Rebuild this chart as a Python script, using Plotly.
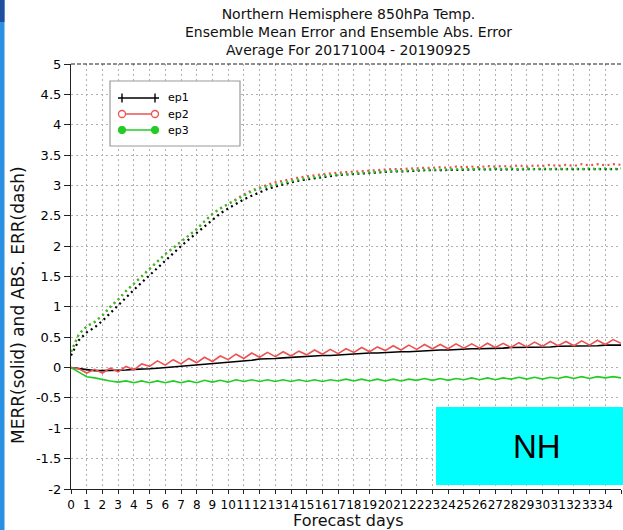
import plotly.graph_objects as go

# ---------------- data ----------------
days = [0, 0.5, 1, 1.5, 2, 2.5, 3, 3.5, 4, 4.5, 5, 5.5, 6, 6.5, 7, 7.5, 8, 8.5, 9, 9.5,
        10, 10.5, 11, 11.5, 12, 12.5, 13, 13.5, 14, 14.5, 15, 15.5, 16, 16.5, 17, 17.5,
        18, 18.5, 19, 19.5, 20, 20.5, 21, 21.5, 22, 22.5, 23, 23.5, 24, 24.5, 25, 25.5,
        26, 26.5, 27, 27.5, 28, 28.5, 29, 29.5, 30, 30.5, 31, 31.5, 32, 32.5, 33, 33.5,
        34, 34.5, 35]

# ensemble mean error (solid)
merr_ep1 = [0.00, -0.02, -0.04, -0.05, -0.05, -0.05, -0.04, -0.04, -0.03, -0.03,
            -0.02, -0.01, 0.00, 0.01, 0.02, 0.03, 0.04, 0.05, 0.06, 0.07,
            0.09, 0.10, 0.11, 0.12, 0.14, 0.14, 0.15, 0.16, 0.17, 0.17,
            0.18, 0.19, 0.20, 0.20, 0.21, 0.22, 0.23, 0.23, 0.24, 0.24,
            0.25, 0.25, 0.26, 0.26, 0.27, 0.28, 0.28, 0.29, 0.29, 0.30,
            0.30, 0.31, 0.31, 0.31, 0.32, 0.32, 0.33, 0.33, 0.33, 0.34,
            0.34, 0.34, 0.35, 0.35, 0.35, 0.36, 0.36, 0.36, 0.37, 0.37, 0.37]
merr_ep2 = [0.00, -0.02, -0.09, -0.03, -0.09, -0.01, -0.07, 0.02, -0.04, 0.06,
            0.02, 0.11, 0.04, 0.13, 0.06, 0.15, 0.08, 0.17, 0.10, 0.19,
            0.13, 0.22, 0.15, 0.24, 0.17, 0.25, 0.18, 0.26, 0.19, 0.27,
            0.21, 0.29, 0.22, 0.30, 0.23, 0.31, 0.25, 0.33, 0.26, 0.34,
            0.28, 0.36, 0.29, 0.37, 0.30, 0.38, 0.31, 0.38, 0.31, 0.39,
            0.32, 0.39, 0.32, 0.40, 0.33, 0.40, 0.33, 0.41, 0.34, 0.42,
            0.35, 0.43, 0.36, 0.43, 0.36, 0.44, 0.37, 0.45, 0.38, 0.46, 0.40]
merr_ep3 = [0.00, -0.08, -0.15, -0.17, -0.20, -0.22, -0.24, -0.22, -0.25, -0.22,
            -0.25, -0.22, -0.25, -0.22, -0.25, -0.22, -0.25, -0.21, -0.24, -0.21,
            -0.24, -0.20, -0.23, -0.20, -0.23, -0.20, -0.23, -0.20, -0.23, -0.20,
            -0.23, -0.20, -0.23, -0.20, -0.22, -0.19, -0.22, -0.19, -0.22, -0.19,
            -0.22, -0.19, -0.22, -0.19, -0.21, -0.18, -0.21, -0.18, -0.21, -0.18,
            -0.20, -0.17, -0.20, -0.17, -0.20, -0.17, -0.19, -0.16, -0.19, -0.16,
            -0.19, -0.16, -0.18, -0.15, -0.18, -0.15, -0.18, -0.15, -0.17, -0.15, -0.17]

# ensemble absolute error (dotted)
abserr_ep1 = [0.20, 0.45, 0.58, 0.66, 0.77, 0.90, 1.02, 1.15, 1.28, 1.40,
              1.52, 1.65, 1.77, 1.89, 2.00, 2.11, 2.22, 2.33, 2.44, 2.54,
              2.62, 2.70, 2.77, 2.83, 2.89, 2.94, 2.98, 3.02, 3.05, 3.08,
              3.10, 3.12, 3.14, 3.15, 3.17, 3.18, 3.19, 3.20, 3.21, 3.21,
              3.22, 3.23, 3.23, 3.24, 3.24, 3.25, 3.25, 3.25, 3.26, 3.25,
              3.26, 3.26, 3.27, 3.26, 3.27, 3.26, 3.27, 3.26, 3.27, 3.27,
              3.27, 3.26, 3.27, 3.27, 3.27, 3.26, 3.27, 3.27, 3.27, 3.26, 3.27]
abserr_ep2 = [0.26, 0.55, 0.68, 0.75, 0.86, 1.00, 1.12, 1.26, 1.38, 1.50,
              1.62, 1.75, 1.87, 1.97, 2.07, 2.17, 2.28, 2.41, 2.53, 2.62,
              2.70, 2.78, 2.85, 2.92, 2.97, 3.01, 3.05, 3.08, 3.11, 3.13,
              3.15, 3.17, 3.18, 3.20, 3.21, 3.22, 3.23, 3.24, 3.25, 3.25,
              3.26, 3.27, 3.27, 3.28, 3.28, 3.29, 3.29, 3.30, 3.29, 3.31,
              3.30, 3.31, 3.30, 3.32, 3.31, 3.32, 3.31, 3.33, 3.31, 3.33,
              3.32, 3.34, 3.32, 3.34, 3.32, 3.35, 3.33, 3.35, 3.33, 3.35, 3.34]
abserr_ep3 = [0.26, 0.55, 0.68, 0.75, 0.86, 1.00, 1.12, 1.26, 1.38, 1.50,
              1.62, 1.75, 1.87, 1.97, 2.07, 2.17, 2.28, 2.41, 2.53, 2.62,
              2.69, 2.77, 2.84, 2.90, 2.95, 2.98, 3.02, 3.05, 3.08, 3.10,
              3.12, 3.14, 3.15, 3.17, 3.18, 3.19, 3.20, 3.21, 3.22, 3.22,
              3.23, 3.24, 3.24, 3.25, 3.25, 3.26, 3.26, 3.26, 3.27, 3.27,
              3.27, 3.27, 3.28, 3.27, 3.28, 3.27, 3.28, 3.27, 3.28, 3.27,
              3.28, 3.27, 3.28, 3.27, 3.28, 3.27, 3.28, 3.27, 3.28, 3.27, 3.28]

x_tickvals = list(range(0, 36))
x_ticktext = [str(v) for v in x_tickvals]
y_tickvals = [-2, -1.5, -1, -0.5, 0, 0.5, 1, 1.5, 2, 2.5, 3, 3.5, 4, 4.5, 5]
y_ticktext = ["-2", "-1.5", "-1", "-0.5", "0", "0.5", "1", "1.5", "2", "2.5",
              "3", "3.5", "4", "4.5", "5"]

series_names = ["ep1", "ep2", "ep3"]
series_colors = ["#000000", "#ec5252", "#22cc22"]

title_lines = ["Northern Hemisphere 850hPa Temp.",
               "Ensemble Mean Error and Ensemble Abs. Error",
               "Average For 20171004 - 20190925"]

# ---------------- layout geometry ----------------
W, H = 623, 530
L, R, T, B = 71, 2, 64, 41
PW, PH = W - L - R, H - T - B


def px(x):
    return (x - L) / PW


def py(y):
    return (H - B - y) / PH


FONT = "DejaVu Sans"

fig = go.Figure()

merr = [merr_ep1, merr_ep2, merr_ep3]
aerr = [abserr_ep1, abserr_ep2, abserr_ep3]

for name, col, vals in zip(series_names, series_colors, aerr):
    fig.add_trace(go.Scatter(x=days, y=vals, mode="lines", name=name + " abs",
                             line=dict(color=col, width=2.2, dash="2px,3.5px"),
                             showlegend=False, hoverinfo="skip"))
for name, col, vals in zip(series_names, series_colors, merr):
    fig.add_trace(go.Scatter(x=days, y=vals, mode="lines", name=name,
                             line=dict(color=col, width=1.6),
                             showlegend=False))

shapes = []
# left blue strip of the page
shapes.append(dict(type="rect", xref="paper", yref="paper",
                   x0=px(0), x1=px(4.5), y0=py(H), y1=py(0),
                   fillcolor="#2a90e2", line=dict(width=0), layer="above"))
shapes.append(dict(type="rect", xref="paper", yref="paper",
                   x0=px(0), x1=px(4.5), y0=py(22), y1=py(0),
                   fillcolor="#1d4f9e", line=dict(width=0), layer="above"))
# top dashed frame line
shapes.append(dict(type="line", xref="paper", yref="paper",
                   x0=0, x1=1, y0=1, y1=1,
                   line=dict(color="#222222", width=1.2, dash="4px,2px")))
# NH box
shapes.append(dict(type="rect", xref="paper", yref="paper",
                   x0=px(436), x1=px(W + 5), y0=py(485), y1=py(407),
                   fillcolor="#00ffff", line=dict(width=0), layer="above"))
# legend box
shapes.append(dict(type="rect", xref="paper", yref="paper",
                   x0=px(110), x1=px(240), y0=py(146), y1=py(81),
                   fillcolor="white", line=dict(color="#9a9a9a", width=1.2),
                   layer="above"))
leg_y = [98, 114, 130]
lx0, lx1 = 118, 159
mx = (122, 155)
for i, (name, col) in enumerate(zip(series_names, series_colors)):
    yy = leg_y[i]
    shapes.append(dict(type="line", xref="paper", yref="paper",
                       x0=px(lx0 if i == 0 else mx[0]), x1=px(lx1 if i == 0 else mx[1]),
                       y0=py(yy), y1=py(yy),
                       line=dict(color=col, width=1.4), layer="above"))
    for xm in mx:
        if i == 0:
            shapes.append(dict(type="line", xref="paper", yref="paper",
                               x0=px(xm), x1=px(xm), y0=py(yy - 4.5), y1=py(yy + 4.5),
                               line=dict(color=col, width=1.4), layer="above"))
        elif i == 1:
            shapes.append(dict(type="circle", xref="paper", yref="paper",
                               x0=px(xm - 3.5), x1=px(xm + 3.5),
                               y0=py(yy + 3.5), y1=py(yy - 3.5),
                               fillcolor="white", line=dict(color=col, width=1.3),
                               layer="above"))
        else:
            shapes.append(dict(type="circle", xref="paper", yref="paper",
                               x0=px(xm - 3.7), x1=px(xm + 3.7),
                               y0=py(yy + 3.7), y1=py(yy - 3.7),
                               fillcolor=col, line=dict(color=col, width=1),
                               layer="above"))

annotations = []
for i, name in enumerate(series_names):
    annotations.append(dict(xref="paper", yref="paper", x=px(166), y=py(leg_y[i]),
                            text=name, showarrow=False, xanchor="left", yanchor="middle",
                            font=dict(family=FONT, size=11, color="black")))
annotations.append(dict(xref="paper", yref="paper", x=px(348), y=py(32),
                        text="<br>".join(title_lines), showarrow=False,
                        xanchor="center", yanchor="middle", align="center",
                        font=dict(family=FONT, size=14, color="#111111")))
annotations.append(dict(xref="paper", yref="paper", x=px(348), y=py(520),
                        text="Forecast days", showarrow=False, xanchor="center",
                        yanchor="middle", font=dict(family=FONT, size=16, color="#111111")))
annotations.append(dict(xref="paper", yref="paper", x=px(18), y=py(305),
                        text="MERR(solid) and ABS. ERR(dash)", showarrow=False,
                        textangle=-90, xanchor="center", yanchor="middle",
                        font=dict(family=FONT, size=17, color="#111111")))
annotations.append(dict(xref="paper", yref="paper", x=px(537), y=py(446),
                        text="NH", showarrow=False, xanchor="center", yanchor="middle",
                        font=dict(family="Liberation Sans", size=33, color="black")))

fig.update_layout(
    width=W, height=H,
    margin=dict(l=L, r=R, t=T, b=B, pad=0),
    paper_bgcolor="white", plot_bgcolor="white",
    showlegend=False,
    shapes=shapes, annotations=annotations,
    xaxis=dict(range=[0, 35], tickvals=x_tickvals, ticktext=x_ticktext,
               showgrid=True, gridcolor="#b0b0b0", griddash="2px,3px", gridwidth=1,
               zeroline=False, showline=True, linecolor="#222222", linewidth=1.2,
               ticks="outside", ticklen=4, tickcolor="#222222", tickwidth=1,
               tickfont=dict(family=FONT, size=12, color="black"), tickangle=0),
    yaxis=dict(range=[-2, 5], tickvals=y_tickvals, ticktext=y_ticktext,
               showgrid=True, gridcolor="#b0b0b0", griddash="2px,3px", gridwidth=1,
               zeroline=False, showline=True, linecolor="#222222", linewidth=1.2,
               ticks="outside", ticklen=6, tickcolor="#222222", tickwidth=1,
               tickfont=dict(family=FONT, size=13, color="black")),
)

fig.write_html("out.html")
